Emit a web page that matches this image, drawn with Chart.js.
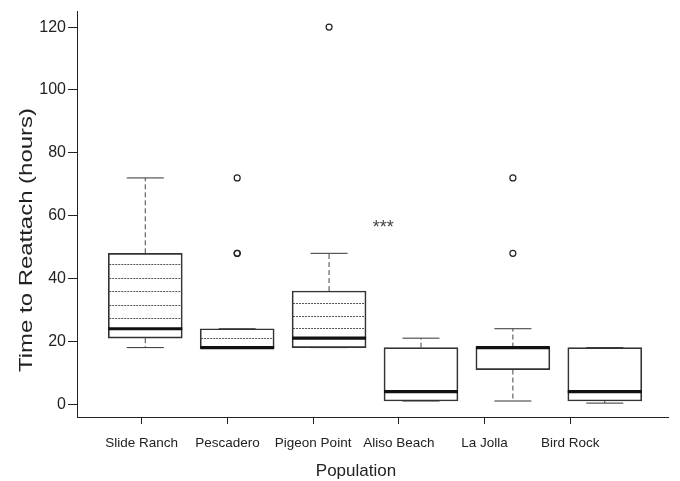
<!DOCTYPE html>
<html>
<head>
<meta charset="utf-8">
<script src="https://cdn.jsdelivr.net/npm/chart.js@4/dist/chart.umd.min.js"></script>
<style>
  html, body { margin: 0; padding: 0; background: #fff; }
  #wrap { width: 680px; height: 481px; }
</style>
</head>
<body>
<div id="wrap"><canvas id="c" width="680" height="481"></canvas></div>
<script>
// Time for each population to reattach, summarised as box plots (hours)
const categories  = ['Slide Ranch', 'Pescadero', 'Pigeon Point', 'Aliso Beach', 'La Jolla', 'Bird Rock'];
const whiskerLow  = [18, 18, 18, 1, 1, 0.33];
const q1          = [21, 18, 18, 1, 11, 1];
const median      = [24, 18, 21, 4, 18, 4];
const q3          = [48, 24, 36, 18, 18, 18];
const whiskerHigh = [72, 24, 48, 21, 24, 18];
const outliers    = [[], [48, 48, 72], [120], [], [48, 72], []];
// dotted reference levels inside the boxes
const innerLevels = [[27.5, 31.5, 36, 40.3, 44.5], [21], [24.3, 28, 32.2], [], [], []];
const yTicks      = [0, 20, 40, 60, 80, 100, 120];
const sigLabel    = '***';
const sigValue    = 56;

const FONT = '"Liberation Sans", Arial, Helvetica, sans-serif';
const INK = '#222';

const boxData     = categories.map((c, i) => ({ x: i + 1, y: [q1[i], q3[i]] }));
const medianData  = categories.map((c, i) => ({ x: i + 1, y: median[i] }));
const capData     = categories.flatMap((c, i) => [{ x: i + 1, y: whiskerLow[i] }, { x: i + 1, y: whiskerHigh[i] }]);
const outlierData = outliers.flatMap((list, i) => list.map(v => ({ x: i + 1, y: v })));

// whiskers, dotted levels, axis titles and the significance mark
const boxDetails = {
  id: 'boxDetails',
  beforeDatasetsDraw(chart) {
    const ctx = chart.ctx;
    const y = chart.scales.y;
    const bars = chart.getDatasetMeta(0).data;
    ctx.save();
    bars.forEach((bar, i) => {
      const cx = bar.x;
      // dashed whiskers
      ctx.strokeStyle = '#444';
      ctx.lineWidth = 1;
      ctx.setLineDash([5, 3]);
      ctx.beginPath();
      ctx.moveTo(cx, y.getPixelForValue(q3[i]));
      ctx.lineTo(cx, y.getPixelForValue(whiskerHigh[i]));
      ctx.moveTo(cx, y.getPixelForValue(q1[i]));
      ctx.lineTo(cx, y.getPixelForValue(whiskerLow[i]));
      ctx.stroke();
      // dotted levels across the box
      ctx.strokeStyle = '#555';
      ctx.setLineDash([2, 1]);
      innerLevels[i].forEach(v => {
        const py = Math.round(y.getPixelForValue(v)) + 0.5;
        ctx.beginPath();
        ctx.moveTo(cx - bar.width / 2 + 1, py);
        ctx.lineTo(cx + bar.width / 2 - 1, py);
        ctx.stroke();
      });
    });
    ctx.restore();
  },
  afterDraw(chart) {
    const ctx = chart.ctx;
    const { x, xb, y } = chart.scales;
    ctx.save();
    ctx.fillStyle = INK;
    // x axis title, centred under the category ticks
    ctx.font = '17px ' + FONT;
    ctx.textAlign = 'center';
    ctx.textBaseline = 'alphabetic';
    ctx.fillText('Population', x.getPixelForValue((categories.length + 1) / 2), 476);
    // y axis title
    ctx.save();
    ctx.translate(31.5, 240);
    ctx.rotate(-Math.PI / 2);
    ctx.scale(1.33, 1);
    ctx.font = '18px ' + FONT;
    ctx.fillText('Time to Reattach (hours)', 0, 0);
    ctx.restore();
    // significance mark between the northern and southern sites
    ctx.fillStyle = '#444';
    ctx.font = '18px ' + FONT;
    ctx.fillText(sigLabel, xb.getPixelForValue(3.59), y.getPixelForValue(sigValue) + 5);
    ctx.restore();
  }
};

new Chart(document.getElementById('c'), {
  type: 'bar',
  data: {
    datasets: [
      {
        type: 'bar', data: boxData, xAxisID: 'xb', yAxisID: 'y',
        backgroundColor: 'rgba(0,0,0,0)', borderColor: '#333', borderWidth: 1,
        borderSkipped: false, barThickness: 74, order: 3
      },
      {
        type: 'scatter', data: capData, xAxisID: 'xb', yAxisID: 'y',
        pointStyle: 'line', pointRadius: 18.5, borderColor: '#333', borderWidth: 1, order: 2
      },
      {
        type: 'scatter', data: medianData, xAxisID: 'xb', yAxisID: 'y',
        pointStyle: 'line', pointRadius: 37, borderColor: '#111', borderWidth: 3.2, order: 1
      },
      {
        type: 'scatter', data: outlierData, xAxisID: 'xb', yAxisID: 'y',
        pointStyle: 'circle', pointRadius: 3, borderColor: '#222', borderWidth: 1.2,
        backgroundColor: 'rgba(0,0,0,0)', order: 0
      }
    ]
  },
  options: {
    responsive: false,
    animation: false,
    devicePixelRatio: 1,
    layout: { autoPadding: false, padding: { top: 7, right: 12, bottom: 24, left: 0 } },
    plugins: { legend: { display: false }, tooltip: { enabled: false }, title: { display: false } },
    scales: {
      x: {
        type: 'linear', position: 'bottom', min: 0.245, max: 7.141, offset: false,
        afterBuildTicks: s => { s.ticks = categories.map((c, i) => ({ value: i + 1 })); },
        afterFit: s => { s.height = 40; },
        grid: { offset: false, drawOnChartArea: false, drawTicks: true, tickLength: 7, color: INK, lineWidth: 1 },
        border: { display: true, color: INK, width: 1 },
        ticks: {
          autoSkip: false, maxRotation: 0, padding: 11, color: INK,
          font: { family: FONT, size: 13.5 },
          callback: v => categories[v - 1] ?? ''
        }
      },
      xb: { type: 'linear', display: false, offset: false, grid: { offset: false }, min: 0.257, max: 6.688 },
      y: {
        type: 'linear', position: 'left', min: -4.09, max: 124.94,
        afterBuildTicks: s => { s.ticks = yTicks.map(v => ({ value: v })); },
        afterFit: s => { s.width = 77; },
        grid: { drawOnChartArea: false, drawTicks: true, tickLength: 9, color: INK, lineWidth: 1 },
        border: { display: true, color: INK, width: 1 },
        ticks: { padding: 2, color: INK, font: { family: FONT, size: 16 } }
      }
    }
  },
  plugins: [boxDetails]
});
</script>
</body>
</html>
